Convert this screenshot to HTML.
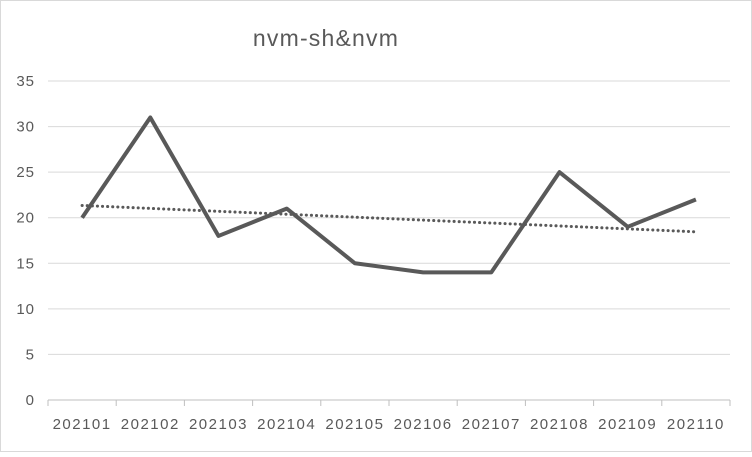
<!DOCTYPE html>
<html><head><meta charset="utf-8"><style>
body{margin:0;background:#fff;}
svg text{font-family:"Liberation Sans",sans-serif;fill:#595959;}
</style></head><body>
<svg id="chart" width="752" height="452" xmlns="http://www.w3.org/2000/svg">
<rect x="0.5" y="0.5" width="751" height="451" fill="#fff" stroke="#d9d9d9"/>
<text x="326" y="46" font-size="23" letter-spacing="1.2" text-anchor="middle">nvm-sh&amp;nvm</text>
<g id="grid"></g><g id="xaxis"></g><g id="series"></g>
</svg>
<script>
const categories=["202101","202102","202103","202104","202105","202106","202107","202108","202109","202110"];
const values=[20,31,18,21,15,14,14,25,19,22];
const yTicks=[0,5,10,15,20,25,30,35];
const L=48,R=730,T=81,B=400,yMax=35;
const bw=(R-L)/categories.length;
const xs=i=>L+bw*(i+0.5);
const ys=v=>B-(B-T)*v/yMax;
const NS="http://www.w3.org/2000/svg";
function mk(t,a,p){const e=document.createElementNS(NS,t);for(const k in a)e.setAttribute(k,a[k]);p.appendChild(e);return e;}
const g=document.getElementById('grid'),xa=document.getElementById('xaxis'),s=document.getElementById('series');
yTicks.forEach(v=>{
 const ln=mk('line',{x1:L,x2:R,y1:ys(v),y2:ys(v),stroke:v===0?'#bfbfbf':'#d9d9d9','stroke-width':1},g);
 
 
 const t=mk('text',{x:35,y:ys(v)+5,'font-size':15,'letter-spacing':1,'text-anchor':'end'},g);t.textContent=v;
 
 
});
categories.forEach((c,i)=>{
 const tk=mk('line',{x1:L+bw*i,x2:L+bw*i,y1:B,y2:B+6,stroke:'#bfbfbf'},xa);
 
 
 const t=mk('text',{x:xs(i),y:429,'font-size':15,'letter-spacing':1.5,'text-anchor':'middle'},xa);t.textContent=c;
 
 
});
const tk=mk('line',{x1:R,x2:R,y1:B,y2:B+6,stroke:'#bfbfbf'},xa);


const n=values.length;let mx=0,my=0;values.forEach((v,i)=>{mx+=i;my+=v;});mx/=n;my/=n;
let sxy=0,sxx=0;values.forEach((v,i)=>{sxy+=(i-mx)*(v-my);sxx+=(i-mx)*(i-mx);});
const sl=sxy/sxx,ic=my-sl*mx;
const tr=mk('line',{x1:xs(0),y1:ys(ic),x2:xs(n-1),y2:ys(ic+sl*(n-1)),stroke:'#595959','stroke-width':3,'stroke-dasharray':'0.1 5','stroke-linecap':'round'},s);


const pl=mk('polyline',{points:values.map((v,i)=>xs(i)+','+ys(v)).join(' '),fill:'none',stroke:'#595959','stroke-width':4,'stroke-linejoin':'round'},s);


</script>
</body></html>
